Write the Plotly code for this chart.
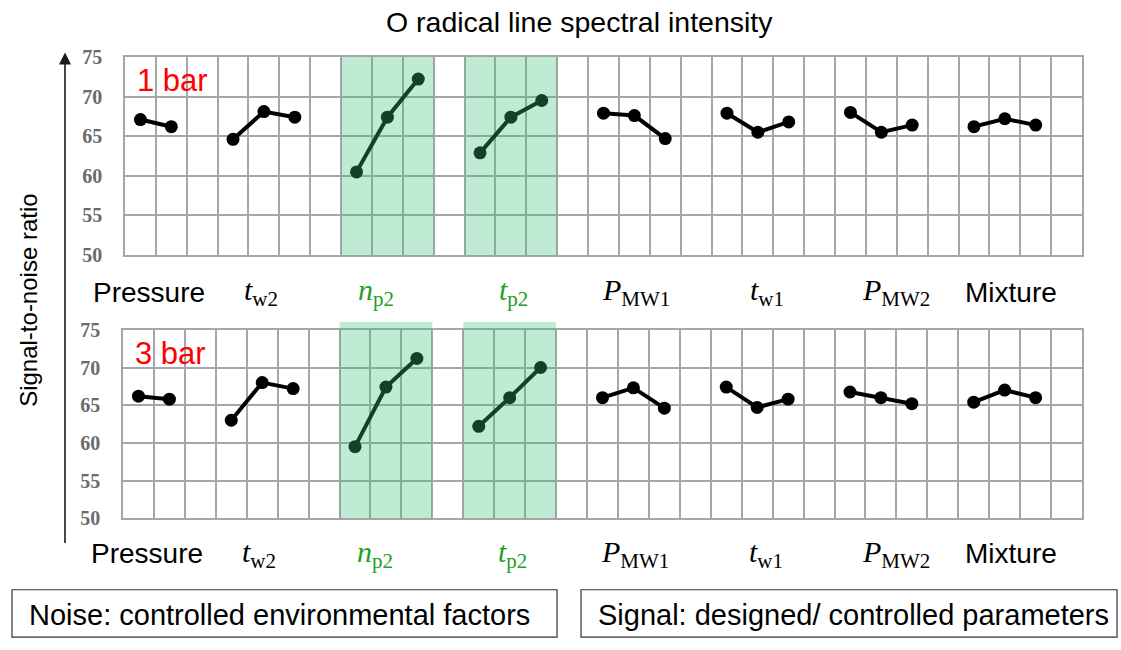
import plotly.graph_objects as go

# ---------------------------------------------------------------- data
factor_names = ["Pressure", "t_w2", "n_p2", "t_p2", "P_MW1", "t_w1", "P_MW2", "Mixture"]
factor_labels = [
    "Pressure",
    "<i>t</i><sub>w2</sub>",
    "<i>n</i><sub>p2</sub>",
    "<i>t</i><sub>p2</sub>",
    "<i>P</i><sub>MW1</sub>",
    "<i>t</i><sub>w1</sub>",
    "<i>P</i><sub>MW2</sub>",
    "Mixture",
]
highlighted = ["n_p2", "t_p2"]

# mean S/N ratio per factor level, 1 bar
sn_1bar = [
    [67.1, 66.2],
    [64.6, 68.1, 67.4],
    [60.5, 67.4, 72.2],
    [62.9, 67.4, 69.5],
    [67.9, 67.6, 64.7],
    [67.9, 65.5, 66.8],
    [68.0, 65.5, 66.4],
    [66.2, 67.2, 66.4],
]
# mean S/N ratio per factor level, 3 bar
sn_3bar = [
    [66.2, 65.8],
    [63.0, 68.0, 67.2],
    [59.5, 67.4, 71.2],
    [62.2, 66.0, 70.0],
    [66.0, 67.3, 64.6],
    [67.4, 64.7, 65.8],
    [66.75, 66.0, 65.2],
    [65.4, 67.0, 66.0],
]
panel_names = ["1 bar", "3 bar"]
y_ticks = [50, 55, 60, 65, 70, 75]

# ---------------------------------------------------------------- layout constants
W, H = 1121, 650
FONT = "Liberation Sans"
SERIF = "Liberation Serif"
GRID = "#a6a6a6"
SHADE = "rgba(60,190,120,0.33)"
GREEN_TXT = "#22a022"

# pixel geometry of the two panels: (left, right, top, bottom)
panels_px = [(125, 1082, 47.5, 252.7), (123, 1082, 330, 525)]
label_y_px = [291, 562]
# small horizontal nudges (px) of factor labels from group centre
label_nudge = [-7, -3, -11, 3, 2, 9, 15, 6]


def px_x(v):
    return v / W


def px_y(v):
    return 1 - v / H


# column index of each level; one empty column after every factor
positions = []
col = 0
for vals in sn_1bar:
    positions.append(list(range(col, col + len(vals))))
    col += len(vals) + 1
n_cols = col

fig = go.Figure()

for p, data in enumerate([sn_1bar, sn_3bar]):
    xa = "x" if p == 0 else "x2"
    ya = "y" if p == 0 else "y2"
    for name, xs, ys in zip(factor_names, positions, data):
        fig.add_trace(go.Scatter(
            x=xs, y=ys, mode="lines+markers", name=name, showlegend=False,
            line=dict(color="black", width=4),
            marker=dict(color="black", size=13, symbol="circle"),
            xaxis=xa, yaxis=ya,
        ))

axis_common = dict(
    showgrid=True, gridcolor=GRID, gridwidth=1.5,
    showline=True, mirror=True, linecolor=GRID, linewidth=1.5,
    zeroline=False, ticks="",
)

for p, (l, r, t, b) in enumerate(panels_px):
    sx = "" if p == 0 else "2"
    fig.update_layout(**{
        "xaxis" + sx: dict(
            domain=[px_x(l), px_x(r)], range=[-0.5, n_cols - 0.5],
            tick0=-0.5, dtick=1, showticklabels=False, anchor="y" + sx,
            **axis_common,
        ),
        "yaxis" + sx: dict(
            domain=[px_y(b), px_y(t)], range=[50, 75], tickvals=y_ticks,
            tickfont=dict(family=SERIF, size=20, color="#6b6b6b", weight="bold"),
            ticklabelstandoff=17, anchor="x" + sx,
            **axis_common,
        ),
    })

    # green bands over the signal factors of main interest
    for name, xs in zip(factor_names, positions):
        if name in highlighted:
            fig.add_shape(
                type="rect", xref="x" + sx, yref="paper",
                x0=xs[0] - 0.5, x1=xs[-1] + 0.5,
                y0=px_y(b), y1=px_y(t - (0 if p == 0 else 8)),
                fillcolor=SHADE, line=dict(width=0), layer="above",
            )

    # panel tag
    fig.add_annotation(
        text=panel_names[p], xref="paper", yref="paper",
        x=px_x(l + 10), y=px_y(t + 24), xanchor="left", yanchor="middle",
        showarrow=False, font=dict(family=FONT, size=31, color="red"),
    )

    # factor names under the panel
    for name, lab, xs, dx in zip(factor_names, factor_labels, positions, label_nudge):
        centre = (xs[0] + xs[-1]) / 2
        is_math = "<i>" in lab
        fig.add_annotation(
            text=lab, xref="x" + sx, yref="paper",
            x=centre, y=px_y(label_y_px[p]), xshift=dx,
            xanchor="center", yanchor="middle", showarrow=False,
            font=dict(
                family=SERIF if is_math else FONT,
                size=30 if is_math else 28,
                color=GREEN_TXT if name in highlighted else "black",
            ),
        )

# title
fig.add_annotation(
    text="O radical line spectral intensity", xref="paper", yref="paper",
    x=px_x(579), y=px_y(21), xanchor="center", yanchor="middle", yshift=9,
    showarrow=False, font=dict(family=FONT, size=28.5, color="black"),
)

# vertical axis title with upward arrow
fig.add_annotation(
    text="Signal-to-noise ratio", xref="paper", yref="paper",
    x=px_x(29), y=px_y(300), textangle=-90, xanchor="center", yanchor="middle",
    showarrow=False, font=dict(family=FONT, size=24, color="black"),
)
fig.add_annotation(
    text="", xref="paper", yref="paper", x=px_x(65), y=px_y(43),
    axref="pixel", ayref="pixel", ax=0, ay=492,
    showarrow=True, arrowhead=2, arrowsize=1.5, arrowwidth=1.6, arrowcolor="#1a1a1a",
)

# bottom category boxes
boxes = [
    ("Noise: controlled environmental factors", 12, 557),
    ("Signal: designed/ controlled parameters", 581, 1117),
]
for text, x0, x1 in boxes:
    fig.add_shape(
        type="rect", xref="paper", yref="paper",
        x0=px_x(x0), x1=px_x(x1), y0=px_y(648), y1=px_y(599),
        line=dict(color="#333333", width=1.2), fillcolor="rgba(0,0,0,0)",
    )
    fig.add_annotation(
        text=text, xref="paper", yref="paper",
        x=px_x(x0 + 15), y=px_y(625), xanchor="left", yanchor="middle",
        showarrow=False, font=dict(family=FONT, size=29, color="black"),
    )

fig.update_layout(
    width=W, height=H, margin=dict(l=0, r=0, t=0, b=0),
    paper_bgcolor="white", plot_bgcolor="white",
)

fig.write_html("out.html")
